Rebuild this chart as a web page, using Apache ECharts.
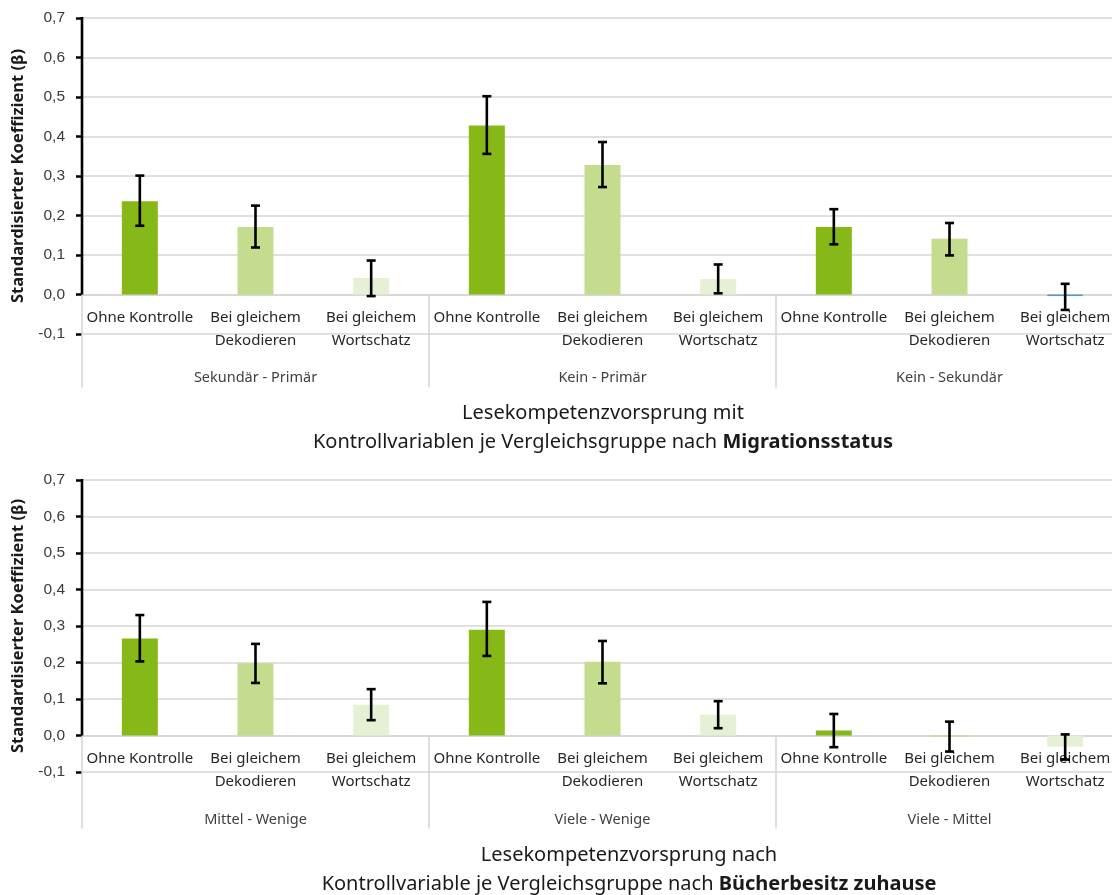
<!DOCTYPE html>
<html lang="de">
<head>
<meta charset="utf-8">
<title>Lesekompetenzvorsprung</title>
<script src="https://cdn.jsdelivr.net/npm/echarts@6/dist/echarts.min.js"></script>
<style>
  html, body { margin: 0; padding: 0; overflow: hidden; background: #ffffff; }
  #chart { width: 1123px; height: 895px; }
</style>
</head>
<body>
<div id="chart"></div>
<script>
// Bedingungen (je Vergleichsgruppe wiederholt)
const conditions = ['Ohne Kontrolle', 'Bei gleichem\nDekodieren', 'Bei gleichem\nWortschatz'];

// Migrationsstatus
const migrationGroups = ['Sekundär - Primär', 'Kein - Primär', 'Kein - Sekundär'];
const migrationBeta  = [0.236, 0.171, 0.042, 0.428, 0.328, 0.039, 0.171, 0.141, -0.004];
const migrationLower = [0.174, 0.119, -0.004, 0.356, 0.272, 0.003, 0.127, 0.099, -0.039];
const migrationUpper = [0.301, 0.225, 0.086, 0.502, 0.386, 0.076, 0.216, 0.181, 0.027];

// Bücherbesitz zuhause
const booksGroups = ['Mittel - Wenige', 'Viele - Wenige', 'Viele - Mittel'];
const booksBeta  = [0.266, 0.198, 0.084, 0.290, 0.202, 0.057, 0.014, -0.003, -0.031];
const booksLower = [0.203, 0.144, 0.042, 0.218, 0.143, 0.020, -0.032, -0.044, -0.066];
const booksUpper = [0.330, 0.251, 0.127, 0.366, 0.259, 0.094, 0.059, 0.038, 0.003];

// Achsenbereich
const yMin = -0.1;
const yMax = 0.7;
const yStep = 0.1;

const barColors = ['#86b817', '#c3dc8e', '#e6f0d5'];
const FONT = "'Noto Sans', 'Open Sans', sans-serif";

const categoryData = [].concat(conditions, conditions, conditions);

function errorBarRenderer(params, api) {
  const idx = api.value(0);
  const lo = api.coord([idx, api.value(1)]);
  const hi = api.coord([idx, api.value(2)]);
  const cap = 4.5;
  const style = { stroke: '#000000', lineWidth: 2.6 };
  return {
    type: 'group',
    children: [
      { type: 'line', shape: { x1: hi[0], y1: hi[1], x2: lo[0], y2: lo[1] }, style: style },
      { type: 'line', shape: { x1: hi[0] - cap, y1: hi[1], x2: hi[0] + cap, y2: hi[1] }, style: style },
      { type: 'line', shape: { x1: lo[0] - cap, y1: lo[1], x2: lo[0] + cap, y2: lo[1] }, style: style }
    ]
  };
}

// Schwarze Werteachse nur oberhalb der Nulllinie
function valueAxisRenderer(params, api) {
  const x = params.coordSys.x;
  const yTop = api.coord([0, api.value(1)])[1];
  const yZero = api.coord([0, api.value(0)])[1];
  return {
    type: 'line',
    shape: { x1: x, y1: yTop - 1, x2: x, y2: yZero },
    style: { stroke: '#000000', lineWidth: 2.6 }
  };
}

function panel(gridIndex, groups, catMargin, groupMargin) {
  return {
    xAxes: [
      {
        type: 'category', gridIndex: gridIndex, data: categoryData, position: 'bottom',
        axisLine: { onZero: true, onZeroAxisIndex: gridIndex, lineStyle: { color: '#d4d4d4', width: 1.5 } },
        axisTick: { show: false },
        axisLabel: {
          interval: 0, margin: catMargin, fontFamily: FONT, fontSize: 15, lineHeight: 23,
          color: '#262626'
        },
        splitLine: { show: false }
      },
      {
        type: 'category', gridIndex: gridIndex, data: groups, position: 'bottom',
        axisLine: { show: false, onZero: true, onZeroAxisIndex: gridIndex },
        axisTick: { show: true, interval: 0, length: 93, lineStyle: { color: '#d4d4d4', width: 1.5 } },
        axisLabel: {
          interval: 0, margin: groupMargin, fontFamily: FONT, fontSize: 14.5, lineHeight: 16,
          color: '#404040'
        },
        splitLine: { show: false }
      }
    ],
    yAxis: {
      type: 'value', gridIndex: gridIndex, min: yMin, max: yMax, interval: yStep,
      name: 'Standardisierter Koeffizient (β)',
      nameLocation: 'middle', nameRotate: 90, nameGap: 55,
      nameTextStyle: { fontFamily: FONT, fontSize: 16.5, fontWeight: 'bold', color: '#1a1a1a' },
      axisLine: { show: false, onZero: false },
      axisTick: { show: true, length: 6, lineStyle: { color: '#000000', width: 2.5 } },
      axisLabel: {
        margin: 17, fontFamily: "'Liberation Sans', Arial, sans-serif", fontSize: 15.5, color: '#3a3a3a',
        formatter: function (v) { return v.toFixed(1).replace('.', ','); }
      },
      splitLine: { show: true, lineStyle: { color: '#d6d6d6', width: 1.5 } }
    }
  };
}

function barSeries(xIndex, yIndex, values, extra) {
  return {
    type: 'bar', xAxisIndex: xIndex, yAxisIndex: yIndex, barWidth: 36,
    data: values.map(function (v, i) {
      const item = { value: v };
      if (extra && extra[i]) item.itemStyle = extra[i];
      return item;
    }),
    itemStyle: { color: function (p) { return barColors[p.dataIndex % 3]; } },
    z: 2
  };
}

function errorSeries(xIndex, yIndex, lower, upper) {
  return {
    type: 'custom', xAxisIndex: xIndex, yAxisIndex: yIndex,
    renderItem: errorBarRenderer,
    encode: { x: 0, y: [1, 2] },
    data: lower.map(function (lo, i) { return [i, lo, upper[i]]; }),
    z: 5
  };
}

function axisSeries(xIndex, yIndex) {
  return {
    type: 'custom', xAxisIndex: xIndex, yAxisIndex: yIndex,
    renderItem: valueAxisRenderer,
    encode: { y: [0, 1] },
    data: [[0, yMax]],
    silent: true,
    z: 6
  };
}

const migrationPanel = panel(0, migrationGroups, -28, 36);
const booksPanel = panel(1, booksGroups, -24.5, 40);

function titleLines(cx, yFirst, first, rest, bold) {
  const base = { fontFamily: FONT, fontSize: 20, fill: '#1a1a1a' };
  return [
    { type: 'text', x: cx, y: yFirst, style: Object.assign({ text: first, align: 'center', verticalAlign: 'middle' }, base) },
    {
      type: 'text', x: cx, y: yFirst + 29,
      style: {
        text: '{n|' + rest + '}{b|' + bold + '}', align: 'center', verticalAlign: 'middle',
        rich: {
          n: base,
          b: Object.assign({}, base, { fontWeight: 'bold' })
        }
      }
    }
  ];
}

const option = {
  animation: false,
  backgroundColor: '#ffffff',
  grid: [
    { left: 82, top: 18, width: 1041, height: 316, outerBoundsMode: 'none', containLabel: false },
    { left: 82, top: 480, width: 1041, height: 292, outerBoundsMode: 'none', containLabel: false }
  ],
  xAxis: migrationPanel.xAxes.concat(booksPanel.xAxes),
  yAxis: [migrationPanel.yAxis, booksPanel.yAxis],
  series: [
    barSeries(0, 0, migrationBeta, { 8: { borderColor: '#5a94c0', borderWidth: 1 } }),
    errorSeries(0, 0, migrationLower, migrationUpper),
    axisSeries(0, 0),
    barSeries(2, 1, booksBeta),
    errorSeries(2, 1, booksLower, booksUpper),
    axisSeries(2, 1)
  ],
  graphic: titleLines(603, 413, 'Lesekompetenzvorsprung mit', 'Kontrollvariablen je Vergleichsgruppe nach ', 'Migrationsstatus')
    .concat(titleLines(629, 855, 'Lesekompetenzvorsprung nach', 'Kontrollvariable je Vergleichsgruppe nach ', 'Bücherbesitz zuhause'))
};

const chart = echarts.init(document.getElementById('chart'), null, { renderer: 'canvas' });
chart.setOption(option);
</script>
</body>
</html>
